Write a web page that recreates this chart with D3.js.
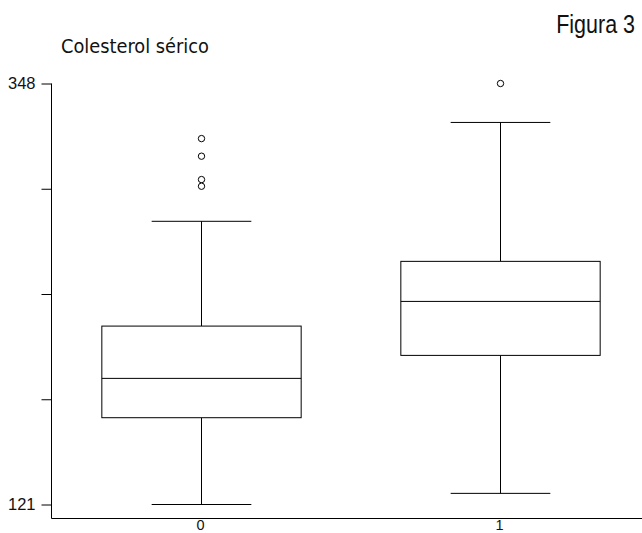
<!DOCTYPE html>
<html>
<head>
<meta charset="utf-8">
<script src="https://cdn.jsdelivr.net/npm/d3@7"></script>
<style>
  html, body { margin: 0; padding: 0; background: #fff; }
  svg { display: block; }
</style>
</head>
<body>
<svg id="chart" width="642" height="533"></svg>
<script>
// Serum cholesterol by group: box-plot summaries
const groups = ["0", "1"];
const whiskerLow = [121, 127];
const q1 = [167.8, 201.4];
const median = [189, 230.5];
const q3 = [217.2, 252.1];
const whiskerHigh = [273.7, 327];
const outliers = [
  [318.3, 308.8, 296.2, 292.6],
  [348]
];
const yTickValues = [121, 177.75, 234.5, 291.25, 348];
const yTickLabels = ["121", "", "", "", "348"];

const svg = d3.select("#chart");
const axisX0 = 51.5, axisY = 518.5;

const x = d3.scaleBand().domain(groups).range([51, 649]).padding(0);
const y = d3.scaleLinear().domain([121, 348]).range([504.5, 83.5]);

const boxW = x.bandwidth() * 2 / 3;
const capW = boxW / 2;

// Axes
const yAxis = d3.axisLeft(y)
  .tickValues(yTickValues)
  .tickFormat((d, i) => yTickLabels[i])
  .tickSize(10)
  .tickPadding(6);
const gy = svg.append("g").attr("transform", `translate(${axisX0},0)`).call(yAxis);
gy.select(".domain").remove();
gy.selectAll(".tick line").attr("stroke", "#000");
gy.selectAll(".tick text")
  .attr("font-family", "'Liberation Sans', Arial, sans-serif")
  .attr("font-size", 16.5)
  .attr("fill", "#111");
svg.append("line")
  .attr("x1", axisX0).attr("x2", axisX0)
  .attr("y1", y(348)).attr("y2", axisY)
  .attr("stroke", "#000");

const xAxis = d3.axisBottom(x).tickSize(0).tickPadding(0.7);
const gx = svg.append("g").attr("transform", `translate(0,${axisY})`).call(xAxis);
gx.select(".domain").remove();
gx.selectAll(".tick text")
  .attr("font-family", "'Liberation Sans', Arial, sans-serif")
  .attr("font-size", 14.5)
  .attr("fill", "#111");
svg.append("line")
  .attr("x1", axisX0).attr("x2", 642)
  .attr("y1", axisY).attr("y2", axisY)
  .attr("stroke", "#000");

// Boxes
const data = groups.map((g, i) => ({
  g, lo: whiskerLow[i], q1: q1[i], med: median[i], q3: q3[i], hi: whiskerHigh[i], out: outliers[i]
}));

const box = svg.append("g").selectAll("g").data(data).join("g")
  .attr("fill", "none").attr("stroke", "#000").attr("stroke-width", 1);

const cx = d => Math.round(x(d.g) + x.bandwidth() / 2) + 0.5;

box.append("line").attr("x1", cx).attr("x2", cx)
  .attr("y1", d => y(d.q3)).attr("y2", d => y(d.hi));
box.append("line").attr("x1", cx).attr("x2", cx)
  .attr("y1", d => y(d.q1)).attr("y2", d => y(d.lo));
box.append("line")
  .attr("x1", d => cx(d) - capW / 2).attr("x2", d => cx(d) + capW / 2)
  .attr("y1", d => y(d.hi)).attr("y2", d => y(d.hi));
box.append("line")
  .attr("x1", d => cx(d) - capW / 2).attr("x2", d => cx(d) + capW / 2)
  .attr("y1", d => y(d.lo)).attr("y2", d => y(d.lo));
box.append("rect")
  .attr("x", d => cx(d) - boxW / 2).attr("width", boxW)
  .attr("y", d => y(d.q3)).attr("height", d => y(d.q1) - y(d.q3))
  .attr("fill", "#fff");
box.append("line")
  .attr("x1", d => cx(d) - boxW / 2).attr("x2", d => cx(d) + boxW / 2)
  .attr("y1", d => y(d.med)).attr("y2", d => y(d.med));
box.selectAll("circle").data(d => d.out.map(v => ({ v, d }))).join("circle")
  .attr("cx", o => cx(o.d)).attr("cy", o => y(o.v)).attr("r", 3.2)
  .attr("fill", "#fff");

// Titles
svg.append("text")
  .attr("x", 61).attr("y", 53)
  .attr("font-family", "'DejaVu Sans Condensed', 'DejaVu Sans', sans-serif")
  .attr("font-stretch", "condensed")
  .attr("font-size", 19.8)
  .attr("fill", "#111")
  .text("Colesterol sérico");

// Condensed figure label (horizontally compressed sans)
svg.append("text")
  .attr("transform", "translate(635,33) scale(0.86,1)")
  .attr("text-anchor", "end")
  .attr("font-family", "'Liberation Sans', Arial, sans-serif")
  .attr("font-size", 25)
  .attr("fill", "#111")
  .text("Figura 3");
</script>
</body>
</html>
